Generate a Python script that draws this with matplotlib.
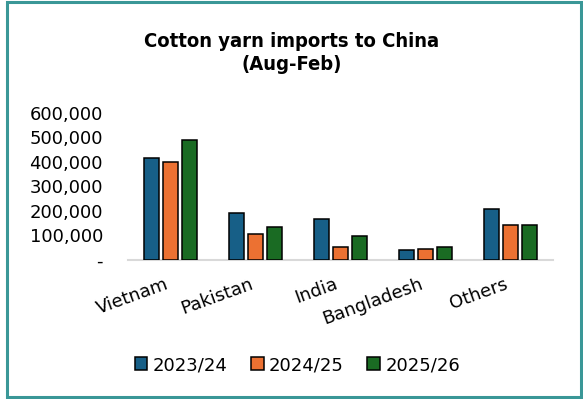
import numpy as np
import matplotlib
matplotlib.use('Agg')
import matplotlib.pyplot as plt
from matplotlib.ticker import FuncFormatter
from matplotlib.patches import Rectangle

countries = ['Vietnam', 'Pakistan', 'India', 'Bangladesh', 'Others']
seasons = ['2023/24', '2024/25', '2025/26']
imports_2324 = [416000, 190000, 166000, 39000, 207000]
imports_2425 = [400000, 104000, 51000, 43000, 141000]
imports_2526 = [490000, 133000, 96000, 51000, 141000]
colors = ['#175F87', '#EC7132', '#1A6B23']

plt.rcParams['font.family'] = 'DejaVu Sans'

fig = plt.figure(figsize=(5.83, 3.99), dpi=100)
ax = fig.add_axes([0.2196, 0.3496, 0.729, 0.367])

x = np.arange(len(countries))
w = 0.18
step = 0.224
for i, (vals, lab) in enumerate(zip([imports_2324, imports_2425, imports_2526], seasons)):
    ax.bar(x + (i - 1) * step, vals, width=w, color=colors[i], edgecolor='black',
           linewidth=1.1, label=lab, zorder=3)

ax.set_xlim(-0.5, 4.5)
ax.set_ylim(0, 600000)
ax.set_yticks(np.arange(0, 600001, 100000))
ax.yaxis.set_major_formatter(FuncFormatter(lambda v, p: '-' if v == 0 else f'{int(v):,}'))
ax.tick_params(axis='y', length=0, pad=18, labelsize=13)
ax.set_xticks(x)
ax.set_xticklabels(countries, rotation=20, ha='right', fontsize=13)
ax.tick_params(axis='x', length=0, pad=11)

for s in ['top', 'right', 'left']:
    ax.spines[s].set_visible(False)
ax.spines['bottom'].set_color('#D9D9D9')
ax.spines['bottom'].set_linewidth(1.5)

fig.text(0.5, 0.868, 'Cotton yarn imports to China\n(Aug-Feb)', ha='center', va='center',
         family='DejaVu Sans', fontstretch='condensed', fontsize=14.5, fontweight='bold',
         linespacing=1.25)

fig.legend(loc='center', bbox_to_anchor=(0.51, 0.085), ncol=3, frameon=False, fontsize=13,
           handlelength=0.7, handleheight=0.7, handletextpad=0.3, columnspacing=1.3)

# teal frame round the whole chart
fig.patches.append(Rectangle((7 / 583, 2 / 399), 574 / 583, 395 / 399, transform=fig.transFigure,
                             fill=False, edgecolor='#3A9797', linewidth=2.2))

fig.savefig('out.png', dpi=100)
